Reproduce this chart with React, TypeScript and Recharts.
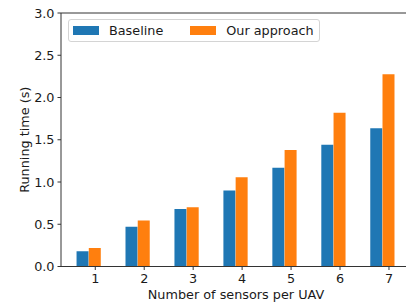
import React from 'react';
import { BarChart, Bar, XAxis, YAxis, ReferenceLine } from 'recharts';

// values
const sensors = [1, 2, 3, 4, 5, 6, 7];
const baseline = [0.18, 0.47, 0.68, 0.9, 1.17, 1.44, 1.635];
const ourApproach = [0.22, 0.545, 0.7, 1.055, 1.38, 1.82, 2.275];
const yTicks = [0, 0.5, 1, 1.5, 2, 2.5, 3];
const seriesNames = ['Baseline', 'Our approach'];
const colors = ['#1f77b4', '#ff7f0e'];

const data = sensors.map((n, i) => ({
  n,
  [seriesNames[0]]: baseline[i],
  [seriesNames[1]]: ourApproach[i],
}));

const font = 'DejaVu Sans, sans-serif';
const axisColor = '#333';
const tickStyle = { fill: '#1a1a1a', fontSize: 12.8, fontFamily: font };

const YLabel = ({ viewBox }: any) => {
  const cx = viewBox.x + 24.5;
  const cy = viewBox.y + viewBox.height / 2;
  return (
    <text
      x={cx}
      y={cy}
      transform={`rotate(-90 ${cx} ${cy})`}
      textAnchor="middle"
      dominantBaseline="central"
      fill="#1a1a1a"
      fontSize={12.8}
      fontFamily={font}
    >
      Running time (s)
    </text>
  );
};

const XLabel = ({ viewBox }: any) => (
  <text
    x={viewBox.x + viewBox.width / 2}
    y={viewBox.y + 28}
    textAnchor="middle"
    dominantBaseline="central"
    fill="#1a1a1a"
    fontSize={12.8}
    fontFamily={font}
  >
    Number of sensors per UAV
  </text>
);

const LegendBox = () => (
  <div
    style={{
      position: 'absolute',
      left: 68,
      top: 19,
      width: 252,
      height: 23,
      border: '1px solid #d4d4d4',
      borderRadius: 3,
      background: 'rgba(255,255,255,0.8)',
      display: 'flex',
      alignItems: 'center',
      fontFamily: font,
      fontSize: 12.8,
      color: '#1a1a1a',
      boxSizing: 'border-box',
    }}
  >
    {seriesNames.map((name, i) => (
      <div key={name} style={{ display: 'flex', alignItems: 'center', marginLeft: i === 0 ? 4 : 27 }}>
        <span style={{ display: 'inline-block', width: 26, height: 9, background: colors[i] }} />
        <span style={{ marginLeft: 10 }}>{name}</span>
      </div>
    ))}
  </div>
);

export default function App() {
  return (
    <div style={{ position: 'absolute', left: 0, top: 0, width: 406, height: 305, overflow: 'hidden', background: '#fff' }}>
      <BarChart width={420} height={305} data={data} margin={{ top: 13, right: 9, bottom: 0, left: 0 }}>
        <XAxis
          xAxisId="main"
          dataKey="n"
          type="number"
          domain={[0.3, 7.45]}
          ticks={sensors}
          allowDataOverflow
          height={38.5}
          tickSize={3.5}
          tickMargin={4}
          tick={tickStyle}
          axisLine={{ stroke: axisColor }}
          tickLine={{ stroke: axisColor }}
          label={<XLabel />}
        />
        {/* shifted axis so the baseline bar sits one bar width left of the tick */}
        <XAxis xAxisId="shift" dataKey="n" type="number" domain={[0.55, 7.7]} allowDataOverflow hide />
        <YAxis
          domain={[0, 3]}
          ticks={yTicks}
          allowDataOverflow
          width={61}
          tickSize={3.5}
          tickMargin={3}
          tickFormatter={(v: number) => v.toFixed(1)}
          tick={tickStyle}
          axisLine={{ stroke: axisColor }}
          tickLine={{ stroke: axisColor }}
          label={<YLabel />}
        />
        <ReferenceLine y={3} xAxisId="main" stroke={axisColor} />
        <Bar dataKey={seriesNames[0]} xAxisId="shift" fill={colors[0]} barSize={12} isAnimationActive={false} />
        <Bar dataKey={seriesNames[1]} xAxisId="main" fill={colors[1]} barSize={12} isAnimationActive={false} />
      </BarChart>
      <LegendBox />
    </div>
  );
}
